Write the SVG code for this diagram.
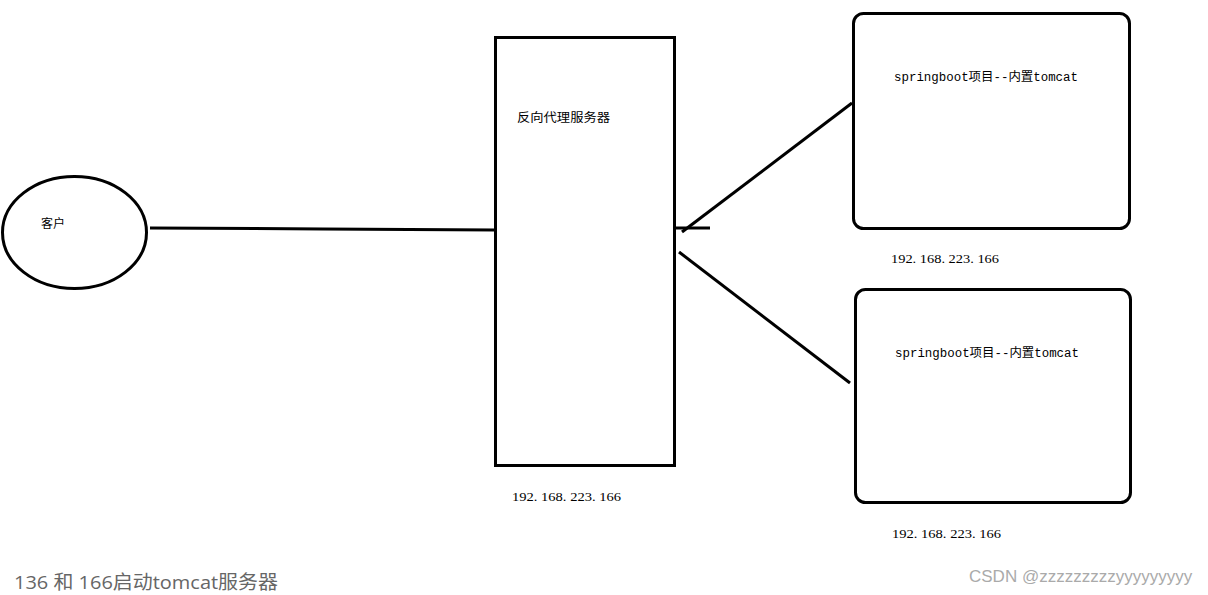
<svg xmlns="http://www.w3.org/2000/svg" width="1208" height="595" viewBox="0 0 1208 595">
<style>
.shape{fill:#fff;stroke:#000;stroke-width:3}
.conn{stroke:#000;stroke-width:3;fill:none}
.lbl{font-family:"Liberation Mono","Noto Sans CJK SC",monospace;font-size:12px;fill:#000}
.ip{font-family:"Liberation Serif","Noto Sans CJK SC",serif;font-size:13px;fill:#000}
.cap{font-family:"Open Sans","Noto Sans CJK SC",sans-serif;font-size:19px;fill:#666}
.wm{font-family:"Liberation Sans",sans-serif;font-size:17px;fill:#aaa}
</style>
<rect width="1208" height="595" fill="#fff"/>
<g id="client">
<ellipse class="shape" cx="74.5" cy="232.5" rx="72" ry="56"/>
<text class="lbl" x="41" y="228" textLength="24" lengthAdjust="spacingAndGlyphs">客户</text>
</g>
<g id="proxy">
<rect class="shape" x="495.5" y="37.5" width="179" height="428"/>
<text class="lbl" x="517" y="122" textLength="93" lengthAdjust="spacingAndGlyphs">反向代理服务器</text>
<text class="ip" x="512" y="501" textLength="109" lengthAdjust="spacingAndGlyphs">192. 168. 223. 166</text>
</g>
<g id="server1">
<rect class="shape" x="853.5" y="13.5" width="276" height="215" rx="10"/>
<text class="lbl" x="894" y="81" textLength="184" lengthAdjust="spacingAndGlyphs">springboot项目--内置tomcat</text>
<text class="ip" x="891" y="263" textLength="108" lengthAdjust="spacingAndGlyphs">192. 168. 223. 166</text>
</g>
<g id="server2">
<rect class="shape" x="855.5" y="289.5" width="275" height="213" rx="10"/>
<text class="lbl" x="895" y="357" textLength="184" lengthAdjust="spacingAndGlyphs">springboot项目--内置tomcat</text>
<text class="ip" x="892" y="538" textLength="109" lengthAdjust="spacingAndGlyphs">192. 168. 223. 166</text>
</g>
<g id="connectors">
<path class="conn" d="M150 228 L323 229 L495 230"/>
<path class="conn" d="M675 228 L710 228"/>
<path class="conn" d="M852 103 L682 232"/>
<path class="conn" d="M679 252 L850 383"/>
</g>
<text class="cap" x="14" y="589" textLength="264" lengthAdjust="spacingAndGlyphs">136 和 166启动tomcat服务器</text>
<text class="wm" x="969" y="582">CSDN @zzzzzzzzzyyyyyyyyy</text>
</svg>
